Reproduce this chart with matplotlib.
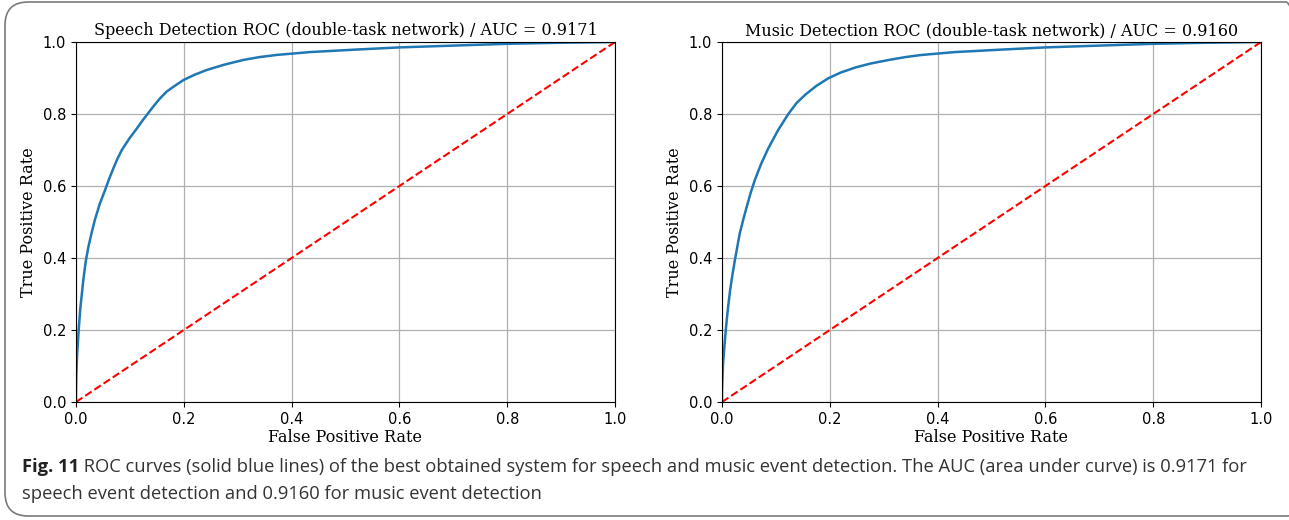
"""ROC curves for speech and music event detection (double-task network)"""

import matplotlib
matplotlib.use("Agg")
import matplotlib.pyplot as plt
from matplotlib.patches import FancyBboxPatch

# data
speech_fpr = [0.0, 0.0, 0.0005, 0.002, 0.005, 0.008, 0.0136, 0.018, 0.023, 0.029,
              0.035, 0.044, 0.054, 0.061, 0.069, 0.077, 0.085, 0.099, 0.113,
              0.125, 0.143, 0.155, 0.168, 0.183, 0.199, 0.220, 0.242, 0.275,
              0.310, 0.340, 0.372, 0.434, 0.52, 0.60, 0.70, 0.80, 0.90, 1.0]
speech_tpr = [0.0, 0.03, 0.07, 0.13, 0.20, 0.26, 0.339, 0.39, 0.431, 0.470,
              0.506, 0.550, 0.589, 0.618, 0.648, 0.676, 0.700, 0.732, 0.760,
              0.785, 0.820, 0.842, 0.862, 0.878, 0.894, 0.909, 0.922, 0.937,
              0.950, 0.958, 0.964, 0.972, 0.979, 0.985, 0.990, 0.995, 0.998, 1.0]
music_fpr = [0.0, 0.0, 0.0007, 0.002, 0.0045, 0.007, 0.011, 0.015, 0.019, 0.024,
             0.033, 0.040, 0.046, 0.053, 0.061, 0.073, 0.086, 0.104, 0.123,
             0.138, 0.154, 0.175, 0.197, 0.220, 0.247, 0.275, 0.309, 0.340,
             0.370, 0.432, 0.52, 0.60, 0.70, 0.80, 0.90, 1.0]
music_tpr = [0.0, 0.03, 0.06, 0.107, 0.155, 0.20, 0.26, 0.31, 0.35, 0.395,
             0.469, 0.510, 0.543, 0.580, 0.617, 0.663, 0.705, 0.755, 0.800,
             0.830, 0.853, 0.878, 0.899, 0.915, 0.929, 0.940, 0.950, 0.958,
             0.964, 0.972, 0.979, 0.985, 0.990, 0.995, 0.998, 1.0]
titles = ["Speech Detection ROC (double-task network) / AUC = 0.9171",
          "Music Detection ROC (double-task network) / AUC = 0.9160"]
caption_bold = "Fig. 11"
caption_line1 = (" ROC curves (solid blue lines) of the best obtained system for speech "
                 "and music event detection. The AUC (area under curve) is 0.9171 for")
caption_line2 = "speech event detection and 0.9160 for music event detection"

W, H = 1289, 520
fig = plt.figure(figsize=(W / 100, H / 100), dpi=100)

# caption frame
frame = FancyBboxPatch((5 / W, 4 / H), (W + 20 - 5) / W, (518 - 4) / H,
                       boxstyle="round,pad=0,rounding_size=0.018",
                       transform=fig.transFigure, facecolor="none",
                       edgecolor="#7a7a7a", linewidth=1.2, mutation_aspect=W / H)
fig.patches.append(frame)

curves = [(speech_fpr, speech_tpr), (music_fpr, music_tpr)]
lefts = [76, 722]
for (fpr, tpr), title, left in zip(curves, titles, lefts):
    ax = fig.add_axes([left / W, (H - 402) / H, 539 / W, 360 / H])
    ax.plot(fpr, tpr, color="#1f77b4", lw=1.8)
    ax.plot([0, 1], [0, 1], "r--", lw=1.5)
    ax.set_xlim(0, 1)
    ax.set_ylim(0, 1)
    ax.set_xticks([0, 0.2, 0.4, 0.6, 0.8, 1.0])
    ax.set_yticks([0, 0.2, 0.4, 0.6, 0.8, 1.0])
    ax.tick_params(labelsize=10.5)
    ax.grid(True, color="#b0b0b0", lw=0.9)
    ax.set_title(title, family="DejaVu Serif", fontsize=11.5, pad=5)
    ax.set_xlabel("False Positive Rate", family="DejaVu Serif", fontsize=11.5, labelpad=2)
    ax.set_ylabel("True Positive Rate", family="DejaVu Serif", fontsize=11.5, labelpad=4)

# caption text
cap_font = dict(family="Open Sans", fontsize=13.2)
t_bold = fig.text(22 / W, 1 - 467 / H, caption_bold, fontweight="bold",
                  color="#222222", va="center", **cap_font)
renderer = fig.canvas.get_renderer()
bb = t_bold.get_window_extent(renderer)
fig.text(bb.x1 / W, 1 - 467 / H, caption_line1, color="#333333", va="center", **cap_font)
fig.text(22 / W, 1 - 494 / H, caption_line2, color="#333333", va="center", **cap_font)

fig.savefig("out.png", dpi=100)
